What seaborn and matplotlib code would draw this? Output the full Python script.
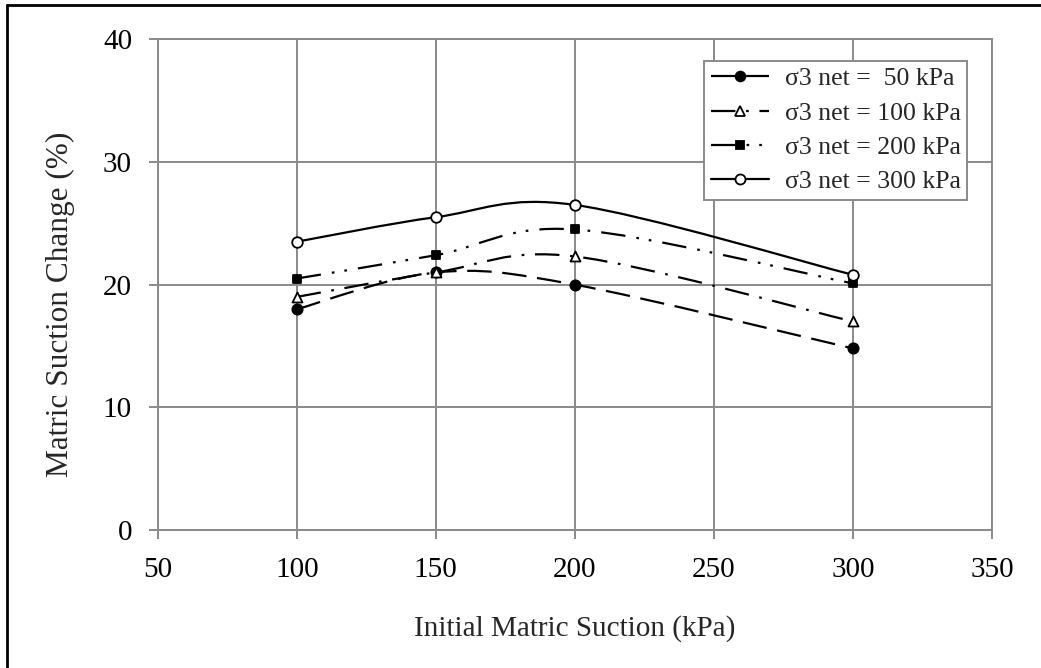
import numpy as np
import pandas as pd
import matplotlib
matplotlib.use("Agg")
import matplotlib.pyplot as plt
import seaborn as sns
from matplotlib.path import Path
from matplotlib.patches import PathPatch
from matplotlib.lines import Line2D

# Initial matric suction (kPa) and matric suction change (%) per net confining stress
suction = [100, 150, 200, 300]
change_50 = [18.0, 21.0, 20.0, 14.8]
change_100 = [19.0, 21.0, 22.3, 17.0]
change_200 = [20.5, 22.4, 24.5, 20.1]
change_300 = [23.5, 25.5, 26.5, 20.8]
labels = ["\u03c33 net =  50 kPa", "\u03c33 net = 100 kPa",
          "\u03c33 net = 200 kPa", "\u03c33 net = 300 kPa"]
x_ticks = [50, 100, 150, 200, 250, 300, 350]
y_ticks = [0, 10, 20, 30, 40]

sns.set_theme(style="white")
plt.rcParams["font.family"] = ["Liberation Serif", "DejaVu Serif"]

series = [change_50, change_100, change_200, change_300]
frames = [pd.DataFrame({"suction": suction, "change": v, "series": lab})
          for v, lab in zip(series, labels)]

# line and marker styles for each series
dash_styles = [
    (0, (11, 4.8)),
    (0, (11, 4.8, 1.2, 4.8)),
    (0, (11, 5, 1.2, 4.5, 1.2, 5)),
    "-",
]
markers = ["o", "^", "s", "o"]
faces = ["black", "white", "black", "white"]
msizes = [7.4, 7.2, 6.0, 7.6]

fig = plt.figure(figsize=(10.41, 6.68), dpi=100)
ax = fig.add_axes([157.7 / 1041, 1 - 530 / 668, (992 - 157.7) / 1041, (530 - 39.3) / 668])

grid_c = "#8a8a8a"


def smooth_path(xs, ys):
    """Cubic Bezier path through the points (Catmull-Rom style tangents)."""
    pts = np.column_stack([xs, ys]).astype(float)
    n = len(pts)
    verts = [pts[0]]
    codes = [Path.MOVETO]
    for i in range(n - 1):
        p_prev = pts[i - 1] if i > 0 else pts[i]
        p_next2 = pts[i + 2] if i + 2 < n else pts[i + 1]
        c1 = pts[i] + (pts[i + 1] - p_prev) / 6.0
        c2 = pts[i + 1] - (p_next2 - pts[i]) / 6.0
        verts += [c1, c2, pts[i + 1]]
        codes += [Path.CURVE4] * 3
    return Path(verts, codes)


handles = []
for df, ls, mk, fc, ms in zip(frames, dash_styles, markers, faces, msizes):
    patch = PathPatch(smooth_path(df["suction"], df["change"]), facecolor="none",
                      edgecolor="black", linewidth=1.6, linestyle=ls, zorder=3,
                      capstyle="butt")
    ax.add_patch(patch)
    sns.scatterplot(data=df, x="suction", y="change", marker=mk, s=ms ** 2,
                    color=fc, edgecolor="black", linewidth=1.3, zorder=4,
                    ax=ax, legend=False)
    handles.append(Line2D([0], [0], color="black", linewidth=1.6, linestyle=ls,
                          marker=mk, markersize=ms * 0.95, markerfacecolor=fc,
                          markeredgecolor="black", markeredgewidth=1.3))

ax.set_xlim(50, 350)
ax.set_ylim(0, 40)
ax.set_xticks(x_ticks)
ax.set_yticks(y_ticks)
ax.grid(True, color=grid_c, linewidth=1.4)
ax.set_axisbelow(True)
for sp in ax.spines.values():
    sp.set_color(grid_c)
    sp.set_linewidth(1.4)
ax.tick_params(axis="both", which="major", direction="out", length=6.5,
               width=1.4, color=grid_c, labelsize=21, labelcolor="black",
               left=True, bottom=True)
ax.tick_params(axis="y", pad=12)
ax.tick_params(axis="x", pad=13)

ax.set_xlabel("Initial Matric Suction (kPa)", fontsize=21, labelpad=23)
ax.set_ylabel("Matric Suction Change (%)", fontsize=22.5)
ax.yaxis.set_label_coords(-0.099, 0.4595)

leg = ax.legend(handles, labels, loc="upper right",
                bbox_to_anchor=(967 / 1041, 1 - 61 / 668),
                bbox_transform=fig.transFigure, fontsize=18.5,
                frameon=True, fancybox=False, framealpha=1, borderaxespad=0,
                handlelength=2.26, handletextpad=0.62, labelspacing=0.44,
                borderpad=0.25)
leg.get_frame().set_edgecolor(grid_c)
leg.get_frame().set_linewidth(1.4)
leg.set_zorder(10)

# outer frame (top and left edges)
fig.add_artist(Line2D([7 / 1041, 7 / 1041], [0, 1 - 5 / 668], transform=fig.transFigure,
                      color="black", linewidth=2.0))
fig.add_artist(Line2D([7 / 1041, 1], [1 - 5 / 668, 1 - 5 / 668], transform=fig.transFigure,
                      color="black", linewidth=2.0))

fig.savefig("out.png", dpi=100, facecolor="white")
